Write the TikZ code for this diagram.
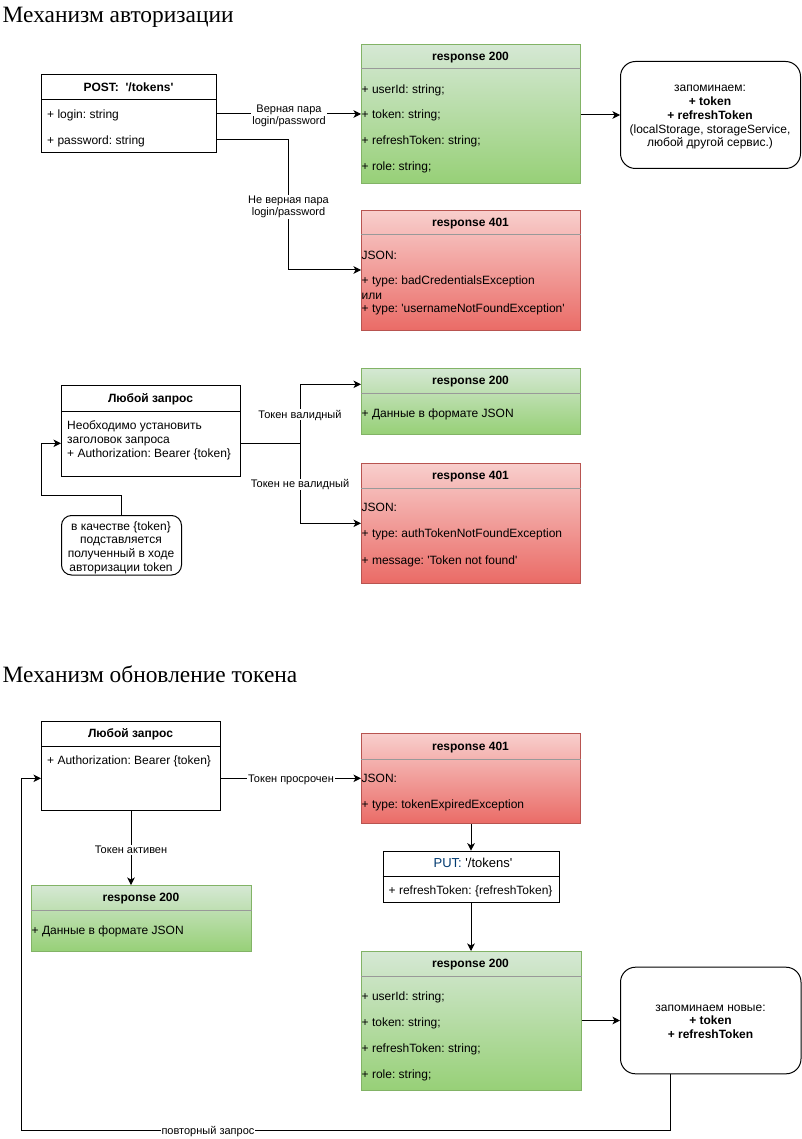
\documentclass[tikz,border=0pt]{standalone}
\usepackage{fontspec}
\setmainfont{Liberation Sans}[Ligatures=TeXOff]
\newfontfamily\ttlfont{Liberation Serif}
\usetikzlibrary{arrows.meta}
\definecolor{gtop}{HTML}{D5E8D4}
\definecolor{gbot}{HTML}{97D077}
\definecolor{gline}{HTML}{82B366}
\definecolor{rtop}{HTML}{F8CECC}
\definecolor{rbot}{HTML}{EA6B66}
\definecolor{rline}{HTML}{B85450}
\definecolor{putblue}{HTML}{003A70}
\frenchspacing
\begin{document}
\begin{tikzpicture}[x=1pt,y=-1pt,
  txtbase/.style={inner sep=0pt, text height=8.6pt, text depth=0pt, font=\fontsize{12}{14}\selectfont},
  row/.style={txtbase, anchor=west},
  ctext/.style={txtbase, anchor=center},
  bctext/.style={txtbase, anchor=center, font=\fontsize{12}{14}\selectfont\bfseries},
  hdr/.style={txtbase, anchor=center, font=\fontsize{12}{14}\selectfont\bfseries},
  lbl/.style={fill=white, inner sep=1pt, text height=8pt, text depth=0.6pt, font=\fontsize{11}{12.7}\selectfont},
  lbltwo/.style={fill=white, inner sep=1pt, align=center, font=\fontsize{11}{12.7}\selectfont},
  diagbox/.style={rectangle, anchor=north west, inner sep=0pt, line width=1pt},
  whitebox/.style={diagbox, draw=black, fill=white},
  greenbox/.style={diagbox, draw=gline, top color=gtop, bottom color=gbot},
  redbox/.style={diagbox, draw=rline, top color=rtop, bottom color=rbot},
  roundbox/.style={diagbox, draw=black, fill=white, rounded corners=15pt},
  notebox/.style={diagbox, draw=black, fill=white, rounded corners=10pt},
  divcol/.style={draw=gray!80, line width=1pt},
  divw/.style={draw=black, line width=1pt},
  conn/.style={draw=black, line width=1pt, -{Stealth[length=7.5pt,width=7.5pt,inset=2pt]}},
  ttl/.style={anchor=base west, inner sep=0pt, font=\ttlfont\fontsize{23.4}{27}\selectfont}
]
\fill[white] (0,0) rectangle (801,1139);
\useasboundingbox (0,0) rectangle (801,1139);

% ---------------- Section 1 ----------------
\node[ttl] (t1) at (2.5,22.7) {Механизм авторизации};

\node[whitebox, minimum width=175pt, minimum height=78pt] (post) at (41,74) {};
\draw[divw] (post.west |- 0,100) -- (post.east |- 0,100);
\node[hdr] (posth) at (128.5,87) {POST:\ \ '/tokens'};
\node[row] (plogin) at (47,114) {+ login: string};
\node[row] (ppass) at (47,140) {+ password: string};

\node[greenbox, minimum width=219pt, minimum height=139pt] (okA) at (361,44) {};
\draw[divcol] (okA.west |- 0,69) -- (okA.east |- 0,69);
\node[hdr] (okAh) at (470.5,56.5) {response 200};
\node[row] (okA1) at (361.5,89.5) {+ userId: string;};
\node[row] (okA2) at (361.5,114.5) {+ token: string;};
\node[row] (okA3) at (361.5,140) {+ refreshToken: string;};
\node[row] (okA4) at (361.5,166) {+ role: string;};

\node[roundbox, minimum width=180pt, minimum height=107pt] (saveA) at (620,61) {};
\node[ctext] (saveA1) at (710,87.7) {запоминаем:};
\node[bctext] (saveA2) at (710,101.4) {+ token};
\node[bctext] (saveA3) at (710,115.2) {+ refreshToken};
\node[ctext] (saveA4) at (710,128.9) {(localStorage, storageService,};
\node[ctext] (saveA5) at (710,142.7) {любой другой сервис.)};

\node[redbox, minimum width=219pt, minimum height=119.5pt] (errA) at (361,210.5) {};
\draw[divcol] (errA.west |- 0,235) -- (errA.east |- 0,235);
\node[hdr] (errAh) at (470.5,222.5) {response 401};
\node[row] (errA1) at (361.5,255) {JSON:};
\node[row] (errA2) at (361.5,280.7) {+ type: badCredentialsException};
\node[row] (errA3) at (361.5,294.7) {или};
\node[row] (errA4) at (361.5,308.5) {+ type: 'usernameNotFoundException'};

\coordinate (bendA) at (288.5,270);
\draw[conn] (plogin -| post.east) -- node[lbltwo, yshift=-1.8pt]{Верная пара\\login/password} (plogin -| okA.west);
\draw[conn] (ppass -| post.east) -| node[lbltwo, pos=0.753, yshift=-1.1pt]{Не верная пара\\login/password} (bendA) -- (bendA -| errA.west);
\draw[conn] (saveA.west -| okA.east) -- (saveA.west);

% ---------------- Section 1b ----------------
\node[whitebox, minimum width=179pt, minimum height=90.5pt] (anyB) at (61,385) {};
\draw[divw] (anyB.west |- 0,411.5) -- (anyB.east |- 0,411.5);
\node[hdr] (anyBh) at (150.5,398) {Любой запрос};
\node[row] (anyB1) at (67,425) {Необходимо установить};
\node[row] (anyB2) at (67,439) {заголовок запроса};
\node[row] (anyB3) at (67,453) {+ Authorization: Bearer \{token\}};

\node[greenbox, minimum width=219pt, minimum height=66pt] (okB) at (361,367.5) {};
\draw[divcol] (okB.west |- 0,393.3) -- (okB.east |- 0,393.3);
\node[hdr] (okBh) at (470.5,380) {response 200};
\node[row] (okB1) at (361.5,413.5) {+ Данные в формате JSON};

\node[redbox, minimum width=219pt, minimum height=119.5pt] (errB) at (361,463) {};
\draw[divcol] (errB.west |- 0,488.3) -- (errB.east |- 0,488.3);
\node[hdr] (errBh) at (470.5,475.5) {response 401};
\node[row] (errB1) at (361.5,507.5) {JSON:};
\node[row] (errB2) at (361.5,533.3) {+ type: authTokenNotFoundException};
\node[row] (errB3) at (361.5,560) {+ message: 'Token not found'};

\node[notebox, minimum width=120pt, minimum height=59.5pt] (noteB) at (61,515) {};
\node[ctext] (noteB1) at (121,525.7) {в качестве \{token\}};
\node[ctext] (noteB2) at (121,539.3) {подставляется};
\node[ctext] (noteB3) at (121,553) {полученный в ходе};
\node[ctext] (noteB4) at (121,566.7) {авторизации token};

\coordinate (splitB) at (300,443.3);
\coordinate (upB) at (300,384.3);
\coordinate (dnB) at (300,523.3);
\coordinate (nbend) at (41.5,495.7);
\draw[conn] (splitB -| anyB.east) -| node[lbl, pos=0.745]{Токен валидный} (upB) -- (upB -| okB.west);
\draw[conn] (splitB -| anyB.east) -| node[lbl, pos=0.756]{Токен не валидный} (dnB) -- (dnB -| errB.west);
\draw[conn] (noteB.north) |- (nbend) |- (splitB -| anyB.west);

% ---------------- Section 2 ----------------
\node[ttl] (t2) at (2.5,682.3) {Механизм обновление токена};

\node[whitebox, minimum width=179pt, minimum height=89.5pt] (anyC) at (41,720.5) {};
\draw[divw] (anyC.west |- 0,746.5) -- (anyC.east |- 0,746.5);
\node[hdr] (anyCh) at (130.5,733.5) {Любой запрос};
\node[row] (anyC1) at (47,760) {+ Authorization: Bearer \{token\}};

\node[redbox, minimum width=219pt, minimum height=90pt] (errC) at (361,733.3) {};
\draw[divcol] (errC.west |- 0,759) -- (errC.east |- 0,759);
\node[hdr] (errCh) at (470.5,746) {response 401};
\node[row] (errCj) at (361.5,778.3) {JSON:};
\node[row] (errC2) at (361.5,804) {+ type: tokenExpiredException};

\node[greenbox, minimum width=220pt, minimum height=66pt] (okC) at (31,885) {};
\draw[divcol] (okC.west |- 0,910.5) -- (okC.east |- 0,910.5);
\node[hdr] (okCh) at (141,897.5) {response 200};
\node[row] (okC1) at (31.5,930) {+ Данные в формате JSON};

\node[whitebox, minimum width=176pt, minimum height=51.6pt] (putC) at (382.5,850.7) {};
\draw[divw] (putC.west |- 0,876.5) -- (putC.east |- 0,876.5);
\node[txtbase, anchor=center] (putCh) at (473,863.5) {\fontsize{13}{15}\selectfont\textcolor{putblue}{PUT:} '/tokens'};
\node[row] (putC1) at (388.5,890) {+ refreshToken: \{refreshToken\}};

\node[greenbox, minimum width=219.5pt, minimum height=139pt] (okD) at (361,951) {};
\draw[divcol] (okD.west |- 0,976) -- (okD.east |- 0,976);
\node[hdr] (okDh) at (470.5,963.5) {response 200};
\node[row] (okD1) at (361.5,995.7) {+ userId: string;};
\node[row] (okD2) at (361.5,1021.7) {+ token: string;};
\node[row] (okD3) at (361.5,1047.7) {+ refreshToken: string;};
\node[row] (okD4) at (361.5,1074) {+ role: string;};

\node[roundbox, minimum width=180.5pt, minimum height=106.6pt] (saveD) at (620,966.7) {};
\node[ctext] (saveD1) at (710.5,1006.7) {запоминаем новые:};
\node[bctext] (saveD2) at (710.5,1020.5) {+ token};
\node[bctext] (saveD3) at (710.5,1034.3) {+ refreshToken};

\coordinate (lpA) at (670.7,1130.5);
\coordinate (lpB) at (21.7,1130.5);
\draw[conn] (errCj -| anyC.east) -- node[lbl]{Токен просрочен} (errCj -| errC.west);
\draw[conn] (anyC.south) -- node[lbl, pos=0.525]{Токен активен} (anyC.south |- okC.north);
\draw[conn] (errC.south) -- (errC.south |- putC.north);
\draw[conn] (putC.south) -- (putC.south |- okD.north);
\draw[conn] (saveD.west -| okD.east) -- (saveD.west);
\draw[conn] (lpA |- saveD.south) -- (lpA) -- node[lbl, pos=0.713]{повторный запрос} (lpB) |- (errCj -| anyC.west);
\end{tikzpicture}
\end{document}
